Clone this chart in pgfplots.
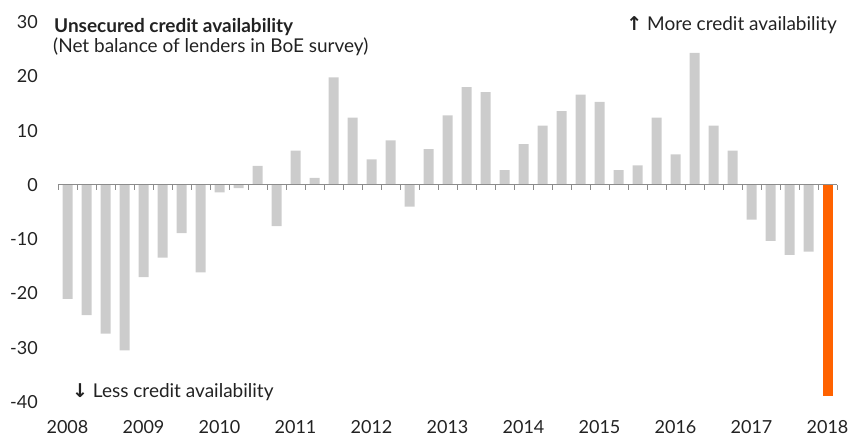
\documentclass[border=0pt]{standalone}
\usepackage{fontspec}
\setmainfont{Lato}
\newfontfamily\sym{DejaVu Sans}
\usepackage{pgfplots}
\pgfplotsset{compat=1.18}
\definecolor{bargray}{HTML}{CCCCCC}
\definecolor{ingorange}{HTML}{FF6200}
\definecolor{txt}{HTML}{222222}
\newcommand{\fs}{\fontsize{18pt}{21pt}\selectfont}
\newcommand{\ft}{\fontsize{19pt}{22pt}\selectfont}
\begin{document}
\begin{tikzpicture}[font=\fs, text=txt]
\useasboundingbox (-58pt,-35pt) rectangle (792pt,402pt);
\begin{axis}[
  at={(0pt,0pt)}, anchor=south west,
  scale only axis, width=779pt, height=380pt,
  xmin=-0.5, xmax=40.5, ymin=-40, ymax=30,
  axis line style={draw=none},
  tick style={draw=none}, major tick length=0pt,
  ytick={-40,-30,-20,-10,0,10,20,30},
  yticklabels={-40,-30,-20,-10,0,10,20,30},
  xtick={0,4,8,12,16,20,24,28,32,36,40},
  xticklabels={2008,2009,2010,2011,2012,2013,2014,2015,2016,2017,2018},
  tick label style={font=\fs, text=txt, inner sep=0pt},
  yticklabel style={anchor=east, xshift=-20pt},
  xticklabel style={anchor=base, yshift=-31pt},
  clip=false,
]
\addplot[ybar, bar width=10pt, bar shift=0pt, fill=bargray, draw=none] coordinates {
(0,-21) (1,-24) (2,-27.4) (3,-30.5)
(4,-17) (5,-13.4) (6,-8.9) (7,-16.1)
(8,-1.4) (9,-0.6) (10,3.5) (11,-7.6)
(12,6.3) (13,1.3) (14,19.8) (15,12.4)
(16,4.7) (17,8.2) (18,-4.0) (19,6.6)
(20,12.8) (21,18.0) (22,17.1) (23,2.7)
(24,7.5) (25,10.9) (26,13.6) (27,16.6)
(28,15.3) (29,2.7) (30,3.6) (31,12.4)
(32,5.6) (33,24.3) (34,10.9) (35,6.3)
(36,-6.4) (37,-10.3) (38,-12.9) (39,-12.3)
};
\addplot[ybar, bar width=10pt, bar shift=0pt, fill=ingorange, draw=none] coordinates {(40,-38.9)};
\draw[black!45, line width=0.8pt] (axis cs:-0.5,0) -- (axis cs:40.5,0);
\pgfplotsinvokeforeach{-0.5,0.5,...,40.5}{\draw[black!45, line width=0.8pt] (axis cs:#1,0) -- ++(0pt,-5pt);}
\end{axis}
\node[anchor=base west, inner sep=0pt, font=\ft\bfseries] at (-4pt,369pt) {Unsecured credit availability};
\node[anchor=base west, inner sep=0pt, font=\ft] at (-5pt,349pt) {(Net balance of lenders in BoE survey)};
\node[anchor=base east, inner sep=0pt, font=\ft] at (779pt,371pt) {{\sym\bfseries ↑} More credit availability};
\node[anchor=base west, inner sep=0pt, font=\ft] at (14pt,5pt) {{\sym\bfseries ↓} Less credit availability};
\end{tikzpicture}
\end{document}
